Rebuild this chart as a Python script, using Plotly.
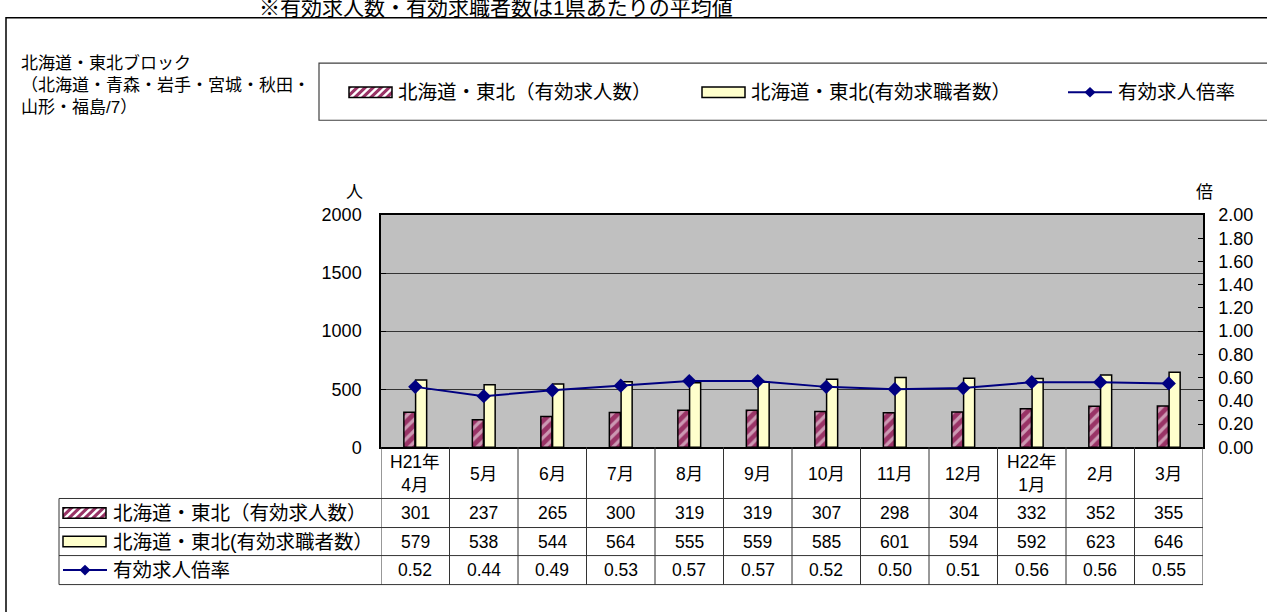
import plotly.graph_objects as go

# ---------------- data ----------------
categories = ["H21年4月", "5月", "6月", "7月", "8月", "9月", "10月", "11月", "12月", "H22年1月", "2月", "3月"]
header_labels = ["H21年<br>4月", "5月", "6月", "7月", "8月", "9月", "10月", "11月", "12月", "H22年<br>1月", "2月", "3月"]
job_offers = [301, 237, 265, 300, 319, 319, 307, 298, 304, 332, 352, 355]
job_seekers = [579, 538, 544, 564, 555, 559, 585, 601, 594, 592, 623, 646]
ratio = [0.52, 0.44, 0.49, 0.53, 0.57, 0.57, 0.52, 0.50, 0.51, 0.56, 0.56, 0.55]

name_offers = "北海道・東北（有効求人数）"
name_seekers = "北海道・東北(有効求職者数）"
name_ratio = "有効求人倍率"
block_title = ["北海道・東北ブロック", "（北海道・青森・岩手・宮城・秋田・", "山形・福島/7）"]
caption = "※有効求人数・有効求職者数は1県あたりの平均値"

# ---------------- geometry helpers ----------------
W, H = 1267, 612
def px(X):
    return X / W
def py(Y):
    return 1 - Y / H

PL, PR, PT, PB = 381, 1203, 212, 452       # plot area (screen pixels)
ROWS = [452, 505, 535, 564, 594]           # table row borders
TL = 59                                   # table left edge

FONT = "Liberation Sans, Noto Sans CJK JP, sans-serif"
PINK = "#993366"
YELLOW = "#FFFFCC"
NAVY = "#000080"
GRIDC = "#333333"
LABEL_SIZE = 19.5

fig = go.Figure()

fig.add_trace(go.Bar(
    x=categories, y=job_offers, name=name_offers,
    marker=dict(color=PINK, line=dict(color="black", width=1.5),
                pattern=dict(shape="/", fgcolor="white", bgcolor=PINK, size=8, solidity=0.4)),
))
fig.add_trace(go.Bar(
    x=categories, y=job_seekers, name=name_seekers,
    marker=dict(color=YELLOW, line=dict(color="black", width=1.5)),
))
fig.add_trace(go.Scatter(
    x=categories, y=ratio, name=name_ratio, yaxis="y2", mode="lines+markers",
    line=dict(color=NAVY, width=2),
    marker=dict(symbol="diamond", size=11, color=NAVY),
))

shapes = []
annotations = []

def line_px(x0, y0, x1, y1, color="black", width=1):
    shapes.append(dict(type="line", xref="paper", yref="paper",
                       x0=px(x0), y0=py(y0), x1=px(x1), y1=py(y1),
                       line=dict(color=color, width=width)))

def rect_px(x0, y0, x1, y1, fill=None, color="black", width=1):
    shapes.append(dict(type="rect", xref="paper", yref="paper",
                       x0=px(x0), y0=py(y0), x1=px(x1), y1=py(y1),
                       fillcolor=fill if fill else "rgba(0,0,0,0)",
                       line=dict(color=color, width=width)))

def poly_path(pts):
    return "M " + " L ".join(f"{px(x):.6f},{py(y):.6f}" for x, y in pts) + " Z"

def clip(poly, xmin, xmax, ymin, ymax):
    def clip_edge(pts, inside, inter):
        out = []
        for i in range(len(pts)):
            cur, prev = pts[i], pts[i - 1]
            if inside(cur):
                if not inside(prev):
                    out.append(inter(prev, cur))
                out.append(cur)
            elif inside(prev):
                out.append(inter(prev, cur))
        return out
    def ix(a, b, xv):
        t = (xv - a[0]) / (b[0] - a[0])
        return (xv, a[1] + t * (b[1] - a[1]))
    def iy(a, b, yv):
        t = (yv - a[1]) / (b[1] - a[1])
        return (a[0] + t * (b[0] - a[0]), yv)
    p = poly
    p = clip_edge(p, lambda q: q[0] >= xmin, lambda a, b: ix(a, b, xmin)) if p else p
    p = clip_edge(p, lambda q: q[0] <= xmax, lambda a, b: ix(a, b, xmax)) if p else p
    p = clip_edge(p, lambda q: q[1] >= ymin, lambda a, b: iy(a, b, ymin)) if p else p
    p = clip_edge(p, lambda q: q[1] <= ymax, lambda a, b: iy(a, b, ymax)) if p else p
    return p

def pink_swatch(x0, y0, x1, y1):
    rect_px(x0, y0, x1, y1, fill=PINK, width=0)
    h = y1 - y0
    k = -4
    while x0 + k * 8 < x1 + 2:
        bx = x0 + k * 8
        poly = [(bx, y1), (bx + 3.5, y1), (bx + 3.5 + h, y0), (bx + h, y0)]
        c = clip(poly, x0, x1, y0, y1)
        if len(c) >= 3:
            shapes.append(dict(type="path", xref="paper", yref="paper", path=poly_path(c),
                               fillcolor="white", line=dict(width=0)))
        k += 1
    rect_px(x0, y0, x1, y1, color="black", width=1.5)

def yellow_swatch(x0, y0, x1, y1):
    rect_px(x0, y0, x1, y1, fill=YELLOW, color="black", width=1.5)

def line_swatch(x0, x1, cy):
    line_px(x0, cy, x1, cy, color=NAVY, width=2)
    cx = (x0 + x1) / 2
    shapes.append(dict(type="path", xref="paper", yref="paper",
                       path=poly_path([(cx - 5.5, cy), (cx, cy - 5.5), (cx + 5.5, cy), (cx, cy + 5.5)]),
                       fillcolor=NAVY, line=dict(width=0)))

def text_px(x, y, s, size=16, xanchor="left", yanchor="middle"):
    annotations.append(dict(xref="paper", yref="paper", x=px(x), y=py(y), text=s,
                            showarrow=False, xanchor=xanchor, yanchor=yanchor,
                            font=dict(family=FONT, size=size, color="black")))

# outer frame
rect_px(6, 8, 1290, 640, color="black", width=1.5)
# caption (cut off at the top edge, as in the reference)
text_px(496, -3, caption, size=21, xanchor="center")
# block title
for i, t in enumerate(block_title):
    text_px(19, 55 + 23 * i, t, size=17)

# legend box
LY = 85
rect_px(319, 55, 1290, 114, color="#404040", width=1.2)
pink_swatch(349, LY - 5.5, 392, LY + 5.5)
text_px(396, LY, name_offers, size=LABEL_SIZE)
yellow_swatch(702, LY - 5.5, 745, LY + 5.5)
text_px(749, LY, name_seekers, size=LABEL_SIZE)
line_swatch(1068, 1112, LY)
text_px(1116, LY, name_ratio, size=LABEL_SIZE)

# unit labels
text_px(354.5, 201, "人", size=17, xanchor="center", yanchor="bottom")
text_px(1204, 201, "倍", size=17, xanchor="center", yanchor="bottom")

# ---------------- table ----------------
n = len(categories)
for r in ROWS[1:]:
    line_px(TL, r, PR, r, color=GRIDC)
line_px(TL, ROWS[1], TL, ROWS[4], color=GRIDC)
for i in range(n + 1):
    shapes.append(dict(type="line", xref="x", yref="paper",
                       x0=i - 0.5, x1=i - 0.5, y0=py(ROWS[0]), y1=py(ROWS[4]),
                       line=dict(color=GRIDC, width=1)))

centers = [(ROWS[i] + ROWS[i + 1]) / 2 for i in range(4)]
for i, c in enumerate(categories):
    annotations.append(dict(xref="x", yref="paper", x=c, y=py(centers[0] + 1), text=header_labels[i],
                            showarrow=False, xanchor="center", yanchor="middle",
                            font=dict(family=FONT, size=17.5, color="black")))
    for row, vals, fmt in ((1, job_offers, "{:d}"), (2, job_seekers, "{:d}"), (3, ratio, "{:.2f}")):
        annotations.append(dict(xref="x", yref="paper", x=c, y=py(centers[row]), text=fmt.format(vals[i]),
                                showarrow=False, xanchor="center", yanchor="middle",
                                font=dict(family=FONT, size=17.5, color="black")))

# row headers
pink_swatch(63, centers[1] - 5.5, 106, centers[1] + 5.5)
text_px(111, centers[1], name_offers, size=LABEL_SIZE)
yellow_swatch(63, centers[2] - 5.5, 106, centers[2] + 5.5)
text_px(111, centers[2], name_seekers, size=LABEL_SIZE)
line_swatch(63, 107, centers[3])
text_px(111, centers[3], name_ratio, size=LABEL_SIZE)

fig.update_layout(
    width=W, height=H,
    margin=dict(l=0, r=0, t=0, b=0),
    paper_bgcolor="white",
    plot_bgcolor="#C0C0C0",
    showlegend=False,
    barmode="group", bargap=0.657, bargroupgap=0.06,
    font=dict(family=FONT, size=16, color="black"),
    xaxis=dict(domain=[px(PL), px(PR)], type="category", range=[-0.5, n - 0.5],
               showticklabels=False, ticks="",
               showline=True, linecolor="black", linewidth=1.5, mirror=True, showgrid=False),
    yaxis=dict(domain=[py(PB), py(PT)], range=[0, 2000], dtick=500, tick0=0,
               showgrid=True, gridcolor=GRIDC, gridwidth=1, zeroline=False,
               showline=True, linecolor="black", linewidth=1.5,
               ticks="inside", ticklen=5, tickcolor="black",
               tickfont=dict(family=FONT, size=18), ticklabelstandoff=14),
    yaxis2=dict(overlaying="y", side="right", range=[0, 2], dtick=0.2, tick0=0, tickformat=".2f",
                showgrid=False, zeroline=False, showline=True, linecolor="black", linewidth=1.5,
                ticks="inside", ticklen=5, tickcolor="black",
                tickfont=dict(family=FONT, size=18), ticklabelstandoff=10),
    shapes=shapes,
    annotations=annotations,
)

fig.write_html("out.html", config={"displayModeBar": False},
               post_script="document.body.style.margin='0';document.body.style.overflow='hidden';")
